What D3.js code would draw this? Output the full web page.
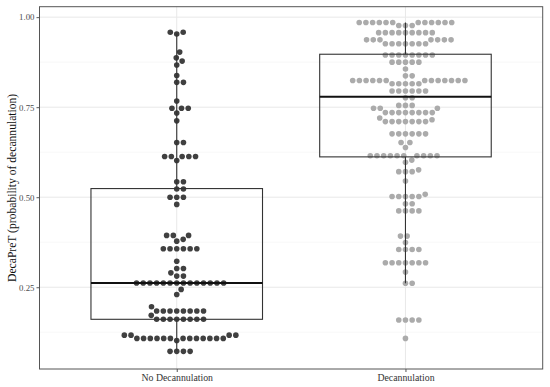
<!DOCTYPE html>
<html>
<head>
<meta charset="utf-8">
<script src="https://cdn.jsdelivr.net/npm/d3@7"></script>
<style>
  body { margin: 0; background: #fff; }
  svg { display: block; }
  .serif { font-family: "Palatino Linotype", Palatino, "Book Antiqua", "Liberation Serif", serif; }
</style>
</head>
<body>
<div id="chart"></div>
<script>
// categories on the x axis
var groups = ["No Decannulation", "Decannulation"];

// DecaPreT values, one per patient
var noDecanValues = [
  0.072, 0.072, 0.072, 0.072,
  0.102,
  0.108, 0.108, 0.108, 0.108, 0.108, 0.108, 0.108, 0.108, 0.108, 0.108, 0.108, 0.108, 0.108,
  0.117, 0.117, 0.117, 0.117,
  0.161, 0.161, 0.161, 0.161, 0.161, 0.161, 0.161, 0.161,
  0.172,
  0.184, 0.184, 0.184, 0.184, 0.184, 0.184, 0.184, 0.184,
  0.196,
  0.230, 0.244,
  0.262, 0.262, 0.262, 0.262, 0.262, 0.262, 0.262, 0.262, 0.262, 0.262, 0.262, 0.262, 0.262, 0.262,
  0.281, 0.281, 0.290, 0.302, 0.302, 0.322,
  0.357, 0.357, 0.357, 0.357, 0.357, 0.357,
  0.378, 0.383, 0.394, 0.394, 0.394,
  0.480, 0.500, 0.500, 0.500, 0.523, 0.523, 0.543, 0.543,
  0.602, 0.613, 0.613, 0.613, 0.613, 0.613, 0.652, 0.652,
  0.712, 0.734, 0.747, 0.747, 0.747, 0.767,
  0.819, 0.819, 0.838, 0.867, 0.878, 0.887, 0.903,
  0.953, 0.958, 0.958
];

var decanValues = [
  0.108,
  0.159, 0.159, 0.159, 0.159,
  0.261, 0.261, 0.292,
  0.318, 0.318, 0.318, 0.318, 0.318, 0.318, 0.318,
  0.355, 0.355, 0.355, 0.355, 0.374, 0.392, 0.392,
  0.462, 0.462, 0.462, 0.462, 0.482, 0.482,
  0.502, 0.502, 0.502, 0.502, 0.502, 0.508, 0.545,
  0.571, 0.571, 0.571, 0.576, 0.597, 0.603,
  0.615, 0.615, 0.615, 0.615, 0.615, 0.615, 0.615, 0.615, 0.615, 0.615,
  0.638, 0.652, 0.652,
  0.676, 0.676, 0.676, 0.676, 0.676, 0.676,
  0.710, 0.710, 0.710, 0.710, 0.710, 0.710, 0.710, 0.715, 0.720,
  0.735, 0.735, 0.735, 0.735, 0.735, 0.735, 0.735, 0.735,
  0.747, 0.747, 0.747, 0.755, 0.755, 0.755, 0.776, 0.776,
  0.795, 0.795, 0.795, 0.795, 0.795, 0.795,
  0.815, 0.815, 0.815, 0.815, 0.815,
  0.824, 0.824, 0.824, 0.824, 0.824, 0.824, 0.824, 0.824, 0.824, 0.824, 0.824, 0.824, 0.824,
  0.837, 0.837, 0.856,
  0.875, 0.875, 0.875, 0.875, 0.875,
  0.895, 0.895, 0.895, 0.895, 0.895, 0.895, 0.895, 0.895,
  0.926, 0.926, 0.926, 0.926, 0.926, 0.926, 0.926,
  0.937, 0.937, 0.937, 0.937, 0.937, 0.937, 0.937,
  0.957, 0.957, 0.957, 0.957, 0.957, 0.957, 0.957, 0.957, 0.957,
  0.977, 0.977, 0.977,
  0.985, 0.985, 0.985, 0.985, 0.985, 0.985, 0.985, 0.985, 0.985, 0.985, 0.985, 0.985
];

// box summaries (per group)
var boxQ1 = [0.161, 0.612];
var boxMedian = [0.262, 0.779];
var boxQ3 = [0.524, 0.897];
var whiskerLow = [0.072, 0.261];
var whiskerHigh = [0.955, 0.985];

// axis ticks
var yTicks = [0.25, 0.50, 0.75, 1.00];
var yMinorTicks = [0.125, 0.375, 0.625, 0.875];

var width = 550;
var height = 387;
var panel = { left: 39.5, right: 542.7, top: 6.7, bottom: 369 };
var dotColors = ["#404040", "#ababab"];
var dotRadius = 2.8;
var swarmSpacing = 6.7;

var svg = d3.select("#chart")
  .append("svg")
  .attr("width", width)
  .attr("height", height);

var xScale = d3.scalePoint()
  .domain(groups)
  .range([panel.left, panel.right])
  .padding(0.6);

var yScale = d3.scaleLinear()
  .domain([0.023, 1.029])
  .range([panel.bottom, panel.top]);

var boxWidth = xScale.step() * 0.75;

// grid lines
var grid = svg.append("g");
grid.selectAll("line.minor")
  .data(yMinorTicks)
  .enter().append("line")
  .attr("x1", panel.left).attr("x2", panel.right)
  .attr("y1", function(d) { return yScale(d); })
  .attr("y2", function(d) { return yScale(d); })
  .attr("stroke", "#f3f3f3")
  .attr("stroke-width", 0.6);
grid.selectAll("line.majorY")
  .data(yTicks)
  .enter().append("line")
  .attr("x1", panel.left).attr("x2", panel.right)
  .attr("y1", function(d) { return yScale(d); })
  .attr("y2", function(d) { return yScale(d); })
  .attr("stroke", "#e8e8e8")
  .attr("stroke-width", 1);
grid.selectAll("line.majorX")
  .data(groups)
  .enter().append("line")
  .attr("y1", panel.top).attr("y2", panel.bottom)
  .attr("x1", function(d) { return xScale(d); })
  .attr("x2", function(d) { return xScale(d); })
  .attr("stroke", "#e8e8e8")
  .attr("stroke-width", 1);

// beeswarm ("swarm" method, ascending priority) in pixel units
function swarm(values) {
  var pts = values.map(function(v) { return { v: v, py: yScale(v), dx: 0 }; });
  pts.sort(function(a, b) { return a.v - b.v; });
  var placed = [];
  var s2 = swarmSpacing * swarmSpacing;
  pts.forEach(function(p) {
    var near = placed.filter(function(q) { return Math.abs(q.py - p.py) < swarmSpacing; });
    if (near.length) {
      var plus = [], minus = [];
      near.forEach(function(q) {
        var off = Math.sqrt(s2 - (q.py - p.py) * (q.py - p.py));
        plus.push(q.dx + off);
        minus.push(q.dx - off);
      });
      var cands = [0].concat(plus, minus);
      var best = Infinity;
      cands.forEach(function(c) {
        var bad = near.some(function(q) {
          return (c - q.dx) * (c - q.dx) + (p.py - q.py) * (p.py - q.py) < s2 * 0.999;
        });
        if (!bad && Math.abs(c) < Math.abs(best)) best = c;
      });
      p.dx = best;
    }
    placed.push(p);
  });
  return pts;
}

// points
[noDecanValues, decanValues].forEach(function(vals, i) {
  var cx = xScale(groups[i]);
  svg.append("g")
    .selectAll("circle")
    .data(swarm(vals))
    .enter().append("circle")
    .attr("cx", function(d) { return cx + d.dx; })
    .attr("cy", function(d) { return d.py; })
    .attr("r", dotRadius)
    .attr("fill", dotColors[i]);
});

// boxplots drawn over the points, no fill
var boxes = svg.selectAll("g.box")
  .data(groups)
  .enter().append("g")
  .attr("class", "box");

boxes.append("line")
  .attr("x1", function(d) { return xScale(d); })
  .attr("x2", function(d) { return xScale(d); })
  .attr("y1", function(d, i) { return yScale(boxQ3[i]); })
  .attr("y2", function(d, i) { return yScale(whiskerHigh[i]); })
  .attr("stroke", "#333").attr("stroke-width", 1.1);
boxes.append("line")
  .attr("x1", function(d) { return xScale(d); })
  .attr("x2", function(d) { return xScale(d); })
  .attr("y1", function(d, i) { return yScale(boxQ1[i]); })
  .attr("y2", function(d, i) { return yScale(whiskerLow[i]); })
  .attr("stroke", "#333").attr("stroke-width", 1.1);
boxes.append("rect")
  .attr("x", function(d) { return xScale(d) - boxWidth / 2; })
  .attr("width", boxWidth)
  .attr("y", function(d, i) { return yScale(boxQ3[i]); })
  .attr("height", function(d, i) { return yScale(boxQ1[i]) - yScale(boxQ3[i]); })
  .attr("fill", "none")
  .attr("stroke", "#333").attr("stroke-width", 1.1);
boxes.append("line")
  .attr("x1", function(d) { return xScale(d) - boxWidth / 2; })
  .attr("x2", function(d) { return xScale(d) + boxWidth / 2; })
  .attr("y1", function(d, i) { return yScale(boxMedian[i]); })
  .attr("y2", function(d, i) { return yScale(boxMedian[i]); })
  .attr("stroke", "#111").attr("stroke-width", 2);

// panel border
svg.append("rect")
  .attr("x", panel.left).attr("y", panel.top)
  .attr("width", panel.right - panel.left)
  .attr("height", panel.bottom - panel.top)
  .attr("fill", "none")
  .attr("stroke", "#555")
  .attr("stroke-width", 1);

// axes
var yAxis = d3.axisLeft(yScale)
  .tickValues(yTicks)
  .tickFormat(d3.format(".2f"))
  .tickSize(3)
  .tickPadding(2);
var gy = svg.append("g")
  .attr("class", "serif")
  .attr("transform", "translate(" + panel.left + ",0)")
  .call(yAxis);
gy.select(".domain").remove();
gy.selectAll("line").attr("stroke", "#555");
gy.selectAll("text").attr("fill", "#4d4d4d").style("font-size", "8.8px");

var xAxis = d3.axisBottom(xScale)
  .tickSize(3)
  .tickPadding(2.5);
var gx = svg.append("g")
  .attr("class", "serif")
  .attr("transform", "translate(0," + panel.bottom + ")")
  .call(xAxis);
gx.select(".domain").remove();
gx.selectAll("line").attr("stroke", "#555");
gx.selectAll("text").attr("fill", "#333").style("font-size", "9.8px");

// y axis title
svg.append("text")
  .attr("class", "serif")
  .attr("transform", "translate(12," + ((panel.top + panel.bottom) / 2) + ")rotate(-90)")
  .attr("text-anchor", "middle")
  .attr("dominant-baseline", "central")
  .style("font-size", "11.6px")
  .attr("fill", "#111")
  .text("DecaPreT (probability of decannulation)");
</script>
</body>
</html>
